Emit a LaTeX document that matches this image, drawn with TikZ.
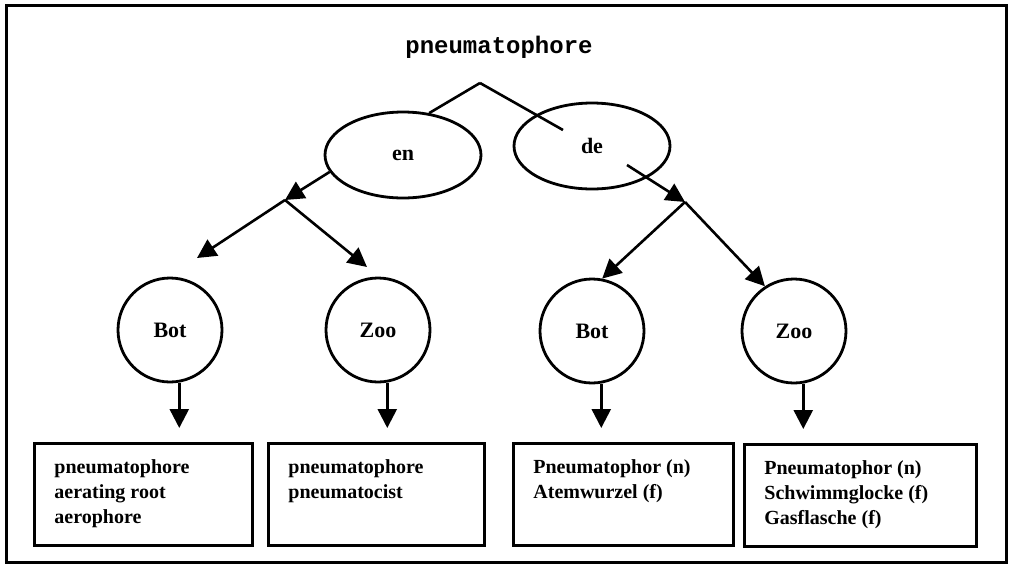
\documentclass[tikz,border=0pt]{standalone}
\usepackage{fontspec}
\setmainfont{Liberation Serif}
\setmonofont{Liberation Mono}
\usepackage{tikz}
\usetikzlibrary{shapes, arrows.meta, positioning, calc}

\newcommand{\entrylist}[2]{\parbox[t][70pt][t]{#1}{#2}}

\tikzset{
  flecha/.style={line width=2.6pt, -{Triangle[length=19pt,width=19pt]}},
  rama/.style={line width=2.6pt},
  lengua/.style={draw, ellipse, line width=2.8pt, minimum width=156pt, minimum height=86pt, inner sep=0pt, font=\fontsize{22}{26}\selectfont\bfseries},
  dominio/.style={draw, circle, line width=2.8pt, minimum size=104pt, inner sep=0pt, font=\fontsize{22}{26}\selectfont\bfseries},
  entrada/.style={draw, line width=2.8pt, anchor=north west, inner xsep=20pt, inner ysep=16pt, font=\fontsize{20}{25}\selectfont\bfseries},
}

\begin{document}
\begin{tikzpicture}[x=1pt, y=-1pt]
        \useasboundingbox (0,0) rectangle (1010,565);
        % Marco exterior
        \draw[line width=3pt] (6,5) rectangle (1006,562);
        % Término
        \node[anchor=base, font=\ttfamily\bfseries\fontsize{24}{28}\selectfont] (titulo) at (499,53) {pneumatophore};
        \coordinate (apex) at (480,83);
        % Idiomas
        \node[lengua] (en) at (403,155) {en};
        \node[lengua] (de) at (592,146) {de};
        \draw[rama] (apex) -- (en.58);
        \draw[rama] (apex) -- ($(de)+(-29,-16)$);
        % Dominios
        \node[dominio] (botL) at (170,330) {Bot};
        \node[dominio] (zooL) at (378,330) {Zoo};
        \node[dominio] (botR) at (592,331) {Bot};
        \node[dominio] (zooR) at (794,331) {Zoo};
        % Ramificaciones
        \coordinate (jl) at (285,200);
        \coordinate (jr) at (685,202);
        \coordinate (tipBL) at (197,258);
        \coordinate (tipZL) at (367,267);
        \draw[flecha] (en.193) -- (jl);
        \draw[flecha] ($(de)+(35,19)$) -- (jr);
        \draw[flecha] (jl) -- (tipBL);
        \draw[flecha] (jl) -- (tipZL);
        \draw[flecha] (jr) -- (botR.79);
        \draw[flecha] (jr) -- (zooR.123);
        % Equivalentes
        \node[entrada] (boxBL) at (33,442) {\entrylist{178pt}{pneumatophore\\aerating root\\aerophore}};
        \node[entrada] (boxZL) at (267,442) {\entrylist{176pt}{pneumatophore\\pneumatocist}};
        \node[entrada] (boxBR) at (512,442) {\entrylist{180pt}{Pneumatophor (n)\\Atemwurzel (f)}};
        \node[entrada] (boxZR) at (743,443) {\entrylist{192pt}{Pneumatophor (n)\\Schwimmglocke (f)\\Gasflasche (f)}};
        % Flechas verticales
        \foreach \c/\b in {botL/boxBL, zooL/boxZL, botR/boxBR, zooR/boxZR} {
            \draw[flecha, shorten >=14pt] (\c.-80) -- (\c.-80 |- \b.north);
        }
    \end{tikzpicture}
\end{document}
